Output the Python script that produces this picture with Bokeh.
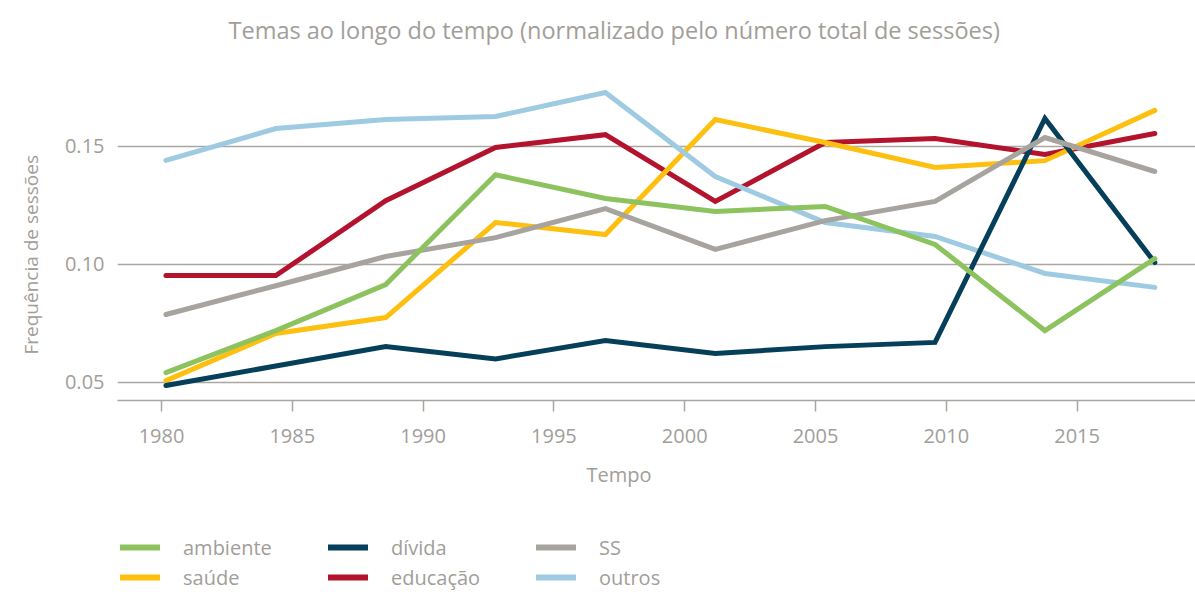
from bokeh.plotting import figure
from bokeh.models import (Legend, LegendItem, FixedTicker, PrintfTickFormatter,
                          ColumnDataSource, Title)
from bokeh.layouts import column
from bokeh.embed import file_html
from bokeh.resources import INLINE

# ---- data ----
years = [1980.17, 1984.37, 1988.57, 1992.77, 1996.97, 2001.17, 2005.37, 2009.57, 2013.77, 2017.97]
ambiente = [0.0542, 0.0720, 0.0915, 0.1380, 0.1280, 0.1225, 0.1246, 0.1085, 0.0720, 0.1025]
divida   = [0.0487, 0.0570, 0.0652, 0.0600, 0.0678, 0.0623, 0.0652, 0.0670, 0.1619, 0.1008]
ss       = [0.0788, 0.0910, 0.1034, 0.1114, 0.1237, 0.1064, 0.1186, 0.1267, 0.1538, 0.1394]
saude    = [0.0508, 0.0708, 0.0775, 0.1178, 0.1127, 0.1614, 0.1517, 0.1411, 0.1440, 0.1653]
educacao = [0.0953, 0.0953, 0.1270, 0.1496, 0.1550, 0.1267, 0.1517, 0.1534, 0.1466, 0.1555]
outros   = [0.1441, 0.1576, 0.1614, 0.1627, 0.1729, 0.1373, 0.1178, 0.1119, 0.0962, 0.0903]

series_names = ["ambiente", "dívida", "SS", "saúde", "educação", "outros"]
x_ticks = [1980, 1985, 1990, 1995, 2000, 2005, 2010, 2015]
y_ticks = [0.05, 0.10, 0.15]

colors = {
    "ambiente": "#8dc35e",
    "dívida": "#053f59",
    "SS": "#a7a39e",
    "saúde": "#fdc010",
    "educação": "#b3132d",
    "outros": "#9ecbe1",
}
values = {
    "ambiente": ambiente, "dívida": divida, "SS": ss,
    "saúde": saude, "educação": educacao, "outros": outros,
}

FONT = "Open Sans"
GREY_TXT = "#a19e99"
GREY_LN = "#aaa7a2"

p = figure(
    width=1195, height=500,
    x_range=(1978.318, 2019.526), y_range=(0.04237, 0.18644),
    output_backend="svg", toolbar_location=None,
    min_border_left=117, min_border_right=0, min_border_top=60, min_border_bottom=100,
)
p.outline_line_color = None
p.background_fill_color = "white"
p.border_fill_color = "white"

p.title = Title(text="Temas ao longo do tempo (normalizado pelo número total de sessões)",
                align="left", offset=111, standoff=25, vertical_align="top",
                text_font=FONT, text_font_size="23.5px", text_font_style="normal",
                text_color=GREY_TXT)

# x axis
xa = p.xaxis[0]
xa.ticker = FixedTicker(ticks=x_ticks)
xa.axis_line_color = GREY_LN
xa.axis_line_width = 1.5
xa.major_tick_line_color = GREY_LN
xa.major_tick_line_width = 1.5
xa.major_tick_out = 11
xa.major_tick_in = 0
xa.minor_tick_line_color = None
xa.major_label_text_font = FONT
xa.major_label_text_font_size = "20px"
xa.major_label_text_color = GREY_TXT
xa.major_label_standoff = 17

# y axis
ya = p.yaxis[0]
ya.ticker = FixedTicker(ticks=y_ticks)
ya.formatter = PrintfTickFormatter(format="%.2f")
ya.axis_line_color = None
ya.major_tick_line_color = None
ya.minor_tick_line_color = None
ya.major_tick_out = 0
ya.major_tick_in = 0
ya.major_label_text_font = FONT
ya.major_label_text_font_size = "20px"
ya.major_label_text_color = GREY_TXT
ya.major_label_standoff = 13

# axis titles
p.add_layout(Title(text="Tempo", align="left", offset=469, standoff=26,
                   text_font=FONT, text_font_size="20px", text_font_style="normal",
                   text_color=GREY_TXT), "below")
p.add_layout(Title(text="Frequência de sessões", align="left", offset=46, standoff=32,
                   vertical_align="top",
                   text_font=FONT, text_font_size="19px", text_font_style="normal",
                   text_color=GREY_TXT), "left")

p.xgrid.grid_line_color = None
p.ygrid.ticker = FixedTicker(ticks=y_ticks)
p.ygrid.grid_line_color = GREY_LN
p.ygrid.grid_line_width = 1.3

sources = {n: ColumnDataSource(dict(x=years, y=values[n])) for n in series_names}

draw_order = ["educação", "saúde", "outros", "dívida", "SS", "ambiente"]
for name in draw_order:
    p.line("x", "y", source=sources[name], line_color=colors[name],
           line_width=5, line_cap="round", line_join="miter")

# legend strip below the chart
leg = figure(width=1195, height=92, x_range=(0, 1), y_range=(0, 1),
             x_axis_location=None, y_axis_location=None,
             output_backend="svg", toolbar_location=None,
             min_border_left=0, min_border_right=0, min_border_top=0, min_border_bottom=0)
leg.outline_line_color = None
leg.background_fill_color = "white"
leg.border_fill_color = "white"
leg.xgrid.grid_line_color = None
leg.ygrid.grid_line_color = None
leg.grid.visible = False

leg_renderers = {}
for name in series_names:
    leg_renderers[name] = leg.line("x", "y", source=sources[name], line_color=colors[name],
                                   line_width=6, line_cap="round")

items = [LegendItem(label=n, renderers=[leg_renderers[n]]) for n in series_names]
legend = Legend(
    items=items, orientation="horizontal", ncols=3,
    glyph_width=40, glyph_height=30, label_height=30, label_width=145,
    label_standoff=23, spacing=0, padding=0, margin=0,
    label_text_font=FONT, label_text_font_size="20px", label_text_color=GREY_TXT,
    border_line_color=None, background_fill_alpha=0,
    location=(3, 0),
)
leg.add_layout(legend, "center")

open("out.html", "w").write(file_html(column(p, leg), INLINE))
